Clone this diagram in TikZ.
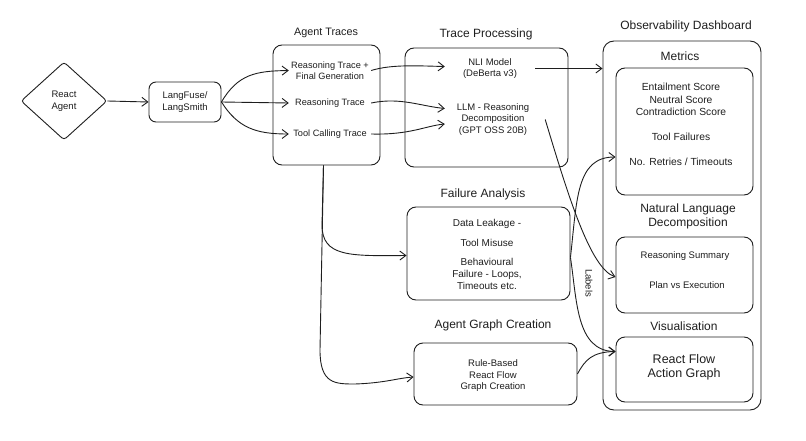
\documentclass[tikz,border=0pt]{standalone}
\usepackage{fontspec}
\setmainfont{Liberation Sans}
\usetikzlibrary{shapes.geometric,arrows.meta}
\definecolor{ink}{HTML}{1E1E1E}
\begin{document}
\begin{tikzpicture}[x=1pt,y=-1pt,
  every node/.style={text=ink},
  box/.style={draw=ink, line width=0.9pt, rounded corners=9pt, inner sep=0pt},
  ttl/.style={font=\fontsize{12}{14}\selectfont, inner sep=1pt},
  itm/.style={align=center, inner sep=1pt, font=\fontsize{9.5}{11.5}\selectfont},
  mitm/.style={align=center, inner sep=1pt, font=\fontsize{10.3}{12.5}\selectfont},
  big/.style={align=center, inner sep=1pt, font=\fontsize{12.5}{14}\selectfont},
  arr/.style={draw=ink, line width=0.9pt, -{Straight Barb[length=6pt,width=9pt]}},
  ]
\useasboundingbox (0,0) rectangle (806,441);

% left part
\node[draw=ink, line width=0.9pt, diamond, minimum width=86pt, minimum height=78pt,
      inner sep=0pt, rounded corners=3pt, align=center, font=\fontsize{9.5}{12}\selectfont] (agent) at (64,101) {React\\Agent};
\node[box, rounded corners=7pt, minimum width=72pt, minimum height=40pt, align=center,
      font=\fontsize{9.5}{12}\selectfont] (lang) at (185,102) {LangFuse/\\LangSmith};

% Agent traces
\node[ttl, font=\fontsize{10.8}{13}\selectfont] (tracesT) at (326,33) {Agent Traces};
\node[box, minimum width=107pt, minimum height=120pt] (traces) at (326.5,105) {};
\node[itm, font=\fontsize{9.2}{11}\selectfont, minimum width=82pt] (rt1) at (330,70.5) {Reasoning Trace +\\Final Generation};
\node[itm, font=\fontsize{9.2}{11}\selectfont, minimum width=82pt] (rt2) at (330,103) {Reasoning Trace};
\node[itm, font=\fontsize{9.2}{11}\selectfont, minimum width=82pt] (rt3) at (330,134) {Tool Calling Trace};

% Trace processing
\node[ttl] (procT) at (486,34) {Trace Processing};
\node[box, minimum width=163pt, minimum height=119pt] (proc) at (486.5,107.5) {};
\node[itm, minimum width=90pt] (nli) at (490,68.5) {NLI Model\\(DeBerta v3)};
\node[itm, minimum width=96pt] (llm) at (493,119.5) {LLM - Reasoning\\Decomposition\\(GPT OSS 20B)};

% Failure analysis
\node[ttl] (failT) at (483,194) {Failure Analysis};
\node[box, minimum width=163pt, minimum height=93pt] (fail) at (488.5,253.5) {};
\node[itm, font=\fontsize{10}{12}\selectfont] (f1) at (487,224) {Data Leakage -};
\node[itm, font=\fontsize{10}{12}\selectfont] (f2) at (487,243) {Tool Misuse};
\node[itm, font=\fontsize{10}{12}\selectfont] (f3) at (487,274) {Behavioural\\Failure - Loops,\\Timeouts etc.};

% Agent graph creation
\node[ttl] (graphT) at (493,325) {Agent Graph Creation};
\node[box, minimum width=163pt, minimum height=62pt] (graph) at (495.5,374) {};
\node[itm] (g1) at (493,376) {Rule-Based\\React Flow\\Graph Creation};

% Dashboard
\node[ttl] (dashT) at (686,26) {Observability Dashboard};
\node[box, rounded corners=11pt, minimum width=158pt, minimum height=369pt] (dash) at (682,225.5) {};
\node[ttl] (metT) at (680,56) {Metrics};
\node[box, minimum width=137pt, minimum height=127pt] (metrics) at (684.5,131.5) {};
\node[mitm] (m1) at (681,99.5) {Entailment Score\\Neutral Score\\Contradiction Score};
\node[mitm] (m2) at (681,137) {Tool Failures};
\node[mitm] (m3) at (681,162) {No. Retries / Timeouts};
\node[ttl, align=center] (nlT) at (688,216) {Natural Language\\Decomposition};
\node[box, minimum width=137pt, minimum height=76pt] (nlbox) at (684.5,275) {};
\node[itm] (nl1) at (685,256) {Reasoning Summary};
\node[itm] (nl2) at (687,285) {Plan vs Execution};
\node[ttl] (visT) at (684,326) {Visualisation};
\node[box, minimum width=137pt, minimum height=65pt] (vis) at (684.5,369.5) {};
\node[big] (v1) at (684,367) {React Flow\\Action Graph};

\node[itm, rotate=-90] (lbl) at (589,283) {Labels};

% connectors
\draw[arr] (agent.east) -- (lang.west);
\draw[arr] (lang.east) .. controls (238,74) and (256,71) .. (rt1.west);
\draw[arr] (lang.east) -- (rt2.west);
\draw[arr] (lang.east) .. controls (238,128) and (256,134) .. (rt3.west);

\draw[arr] (rt1.east) .. controls (392,64) and (420,66) .. ([yshift=2pt]nli.west);
\draw[arr] (rt2.east) .. controls (400,97) and (420,106) .. ([yshift=11pt]llm.west);
\draw[arr] (rt3.east) .. controls (410,135) and (425,126) .. ([yshift=-4.5pt]llm.west);

\draw[arr] (nli.east) -- (dash.west |- nli.east);
\draw[arr] ([xshift=4pt]llm.east) .. controls (568,195) and (590,268) .. ([yshift=-2pt]nlbox.west);

\draw[arr] ([xshift=-3pt]traces.south) -- (322,225) .. controls (322,257) and (350,256) .. ([yshift=-2pt]fail.west);
\draw[arr] ([xshift=-3pt]traces.south) -- (320,350) .. controls (320,384) and (335,384) .. (355,384)
           .. controls (385,383) and (398,378) .. ([yshift=-3pt]graph.west);

\draw[arr] ([yshift=-4pt]fail.east) .. controls (577,200) and (576,157) .. ([yshift=-25.5pt]metrics.west);
\draw[arr] ([yshift=-4pt]fail.east) .. controls (577,300) and (576,351) .. ([yshift=18pt]vis.west);
\draw[arr] (graph.east) .. controls (585,360) and (592,352) .. ([yshift=18pt]vis.west);
\end{tikzpicture}
\end{document}
